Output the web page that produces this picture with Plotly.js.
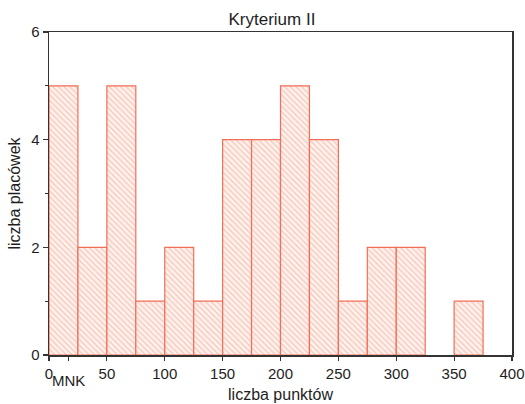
<!DOCTYPE html>
<html>
<head>
<meta charset="utf-8">
<script src="https://cdn.plot.ly/plotly-3.0.1.min.js"></script>
<style>html,body{margin:0;padding:0;background:#fff;}#chart{width:525px;height:404px;}</style>
</head>
<body>
<div id="chart"></div>
<script>
// Bin start values (liczba punktów), bin width 25
var binStarts = [0, 25, 50, 75, 100, 125, 150, 175, 200, 225, 250, 275, 300, 325, 350, 375];
var counts    = [5, 2, 5, 1, 2, 1, 4, 4, 5, 4, 1, 2, 2, 0, 1, 0];
var binWidth = 25;
var xTickVals = [0, 50, 100, 150, 200, 250, 300, 350, 400];
var xTickText = ['0', '50', '100', '150', '200', '250', '300', '350', '400'];
var mnkValue = 17;
var mnkLabel = 'MNK';

var edge = 'rgb(242,110,86)';
var hatch = 'rgb(242,190,175)';
var bg = 'rgb(254,240,235)';

var trace = {
  type: 'bar',
  x: binStarts,
  y: counts,
  width: binWidth,
  offset: 0,
  marker: {
    color: bg,
    line: {color: edge, width: counts.map(function (c) { return c > 0 ? 1.2 : 0; })},
    pattern: {shape: '\\', fgcolor: hatch, bgcolor: bg, size: 4, solidity: 0.25, fillmode: 'replace'}
  },
  hoverinfo: 'x+y'
};

var fam = 'Liberation Sans, Arial, sans-serif';
var txt = '#1e1e1e';

var layout = {
  width: 525, height: 404,
  margin: {l: 49, r: 13, t: 32, b: 49},
  paper_bgcolor: '#fff',
  plot_bgcolor: '#fff',
  showlegend: false,
  bargap: 0,
  font: {family: fam, size: 15, color: txt},
  title: {text: 'Kryterium II', font: {family: fam, size: 17, color: txt}, x: 0.518, xanchor: 'center', y: 0.952, yanchor: 'middle'},
  xaxis: {
    range: [0, 400],
    tickvals: xTickVals.concat([mnkValue]),
    ticktext: xTickText.concat(['']),
    ticks: 'outside', ticklen: 4, tickwidth: 1.2, tickcolor: '#333',
    showline: true, linecolor: '#333', linewidth: 1.5, mirror: true,
    showgrid: false, zeroline: false,
    tickfont: {family: fam, size: 15, color: txt},
    title: {text: 'liczba punktów', font: {family: fam, size: 16, color: txt}, standoff: 8}
  },
  yaxis: {
    range: [0, 6],
    tickvals: [0, 2, 4, 6],
    ticks: 'outside', ticklen: 5, tickwidth: 1.2, tickcolor: '#333',
    minor: {tickvals: [1, 3, 5], ticks: 'outside', ticklen: 3, tickcolor: '#333', tickwidth: 1, showgrid: false},
    showline: true, linecolor: '#333', linewidth: 1.5, mirror: true,
    showgrid: false, zeroline: false,
    tickfont: {family: fam, size: 15, color: txt},
    title: {text: 'liczba placówek', font: {family: fam, size: 16, color: txt}, standoff: 6}
  },
  annotations: [{
    x: mnkValue, xref: 'x', y: 0, yref: 'paper',
    text: mnkLabel, showarrow: false,
    xanchor: 'center', yanchor: 'top', yshift: -15,
    font: {family: fam, size: 15, color: txt}
  }]
};

Plotly.newPlot('chart', [trace], layout, {displayModeBar: false, staticPlot: true});
</script>
</body>
</html>
